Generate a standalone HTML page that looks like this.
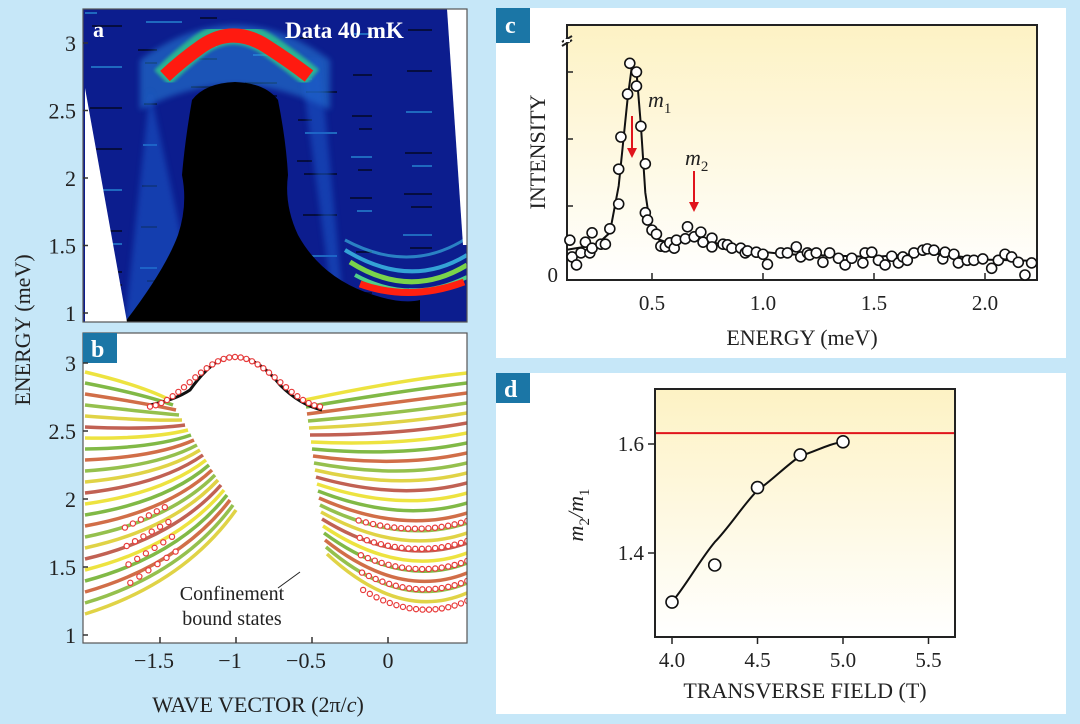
<!DOCTYPE html>
<html><head><meta charset="utf-8">
<style>
html,body{margin:0;padding:0;background:#c6e7f8;}
svg{display:block;font-family:"Liberation Serif",serif;}
</style></head>
<body>
<svg id="fig" width="1080" height="724" viewBox="0 0 1080 724">
<defs>
<linearGradient id="yel" x1="0" y1="0" x2="0" y2="1">
<stop offset="0" stop-color="#fdf2c4"/><stop offset="1" stop-color="#ffffff"/></linearGradient>
<clipPath id="clipA"><rect x="83" y="9" width="384" height="313"/></clipPath>
<clipPath id="clipB"><rect x="83" y="333" width="384" height="310"/></clipPath>
<filter id="blur1"><feGaussianBlur stdDeviation="1.5"/></filter>
<filter id="blur3"><feGaussianBlur stdDeviation="3"/></filter>
</defs>
<rect width="1080" height="724" fill="#c6e7f8"/>

<!-- Panel a -->
<g id="panelA" clip-path="url(#clipA)">
<rect x="83" y="9" width="384" height="313" fill="#0c1d8e"/>
<g id="streaks"></g>
<path d="M140,60 Q235,-10 330,60 L330,110 Q235,60 140,110Z" fill="#2a8be0" opacity="0.5" filter="url(#blur3)"/>
<path d="M150,90 L125,322 L200,322Z M300,60 L335,322 L345,322 L320,60Z" fill="#1a5fd0" opacity="0.5" filter="url(#blur3)"/>
<path d="M125,322 Q165,270 178,235 Q188,205 182,175 Q185,140 192,100 Q205,83 235,82 Q265,83 278,100 Q286,140 288,175 Q284,205 298,235 Q320,275 365,292 Q400,305 420,300 L420,322Z" fill="#000"/>
<path d="M162,78 Q180,60 200,45 Q233,22 268,45 Q290,60 312,78" fill="none" stroke="#2ec98a" stroke-width="22" opacity="0.8" filter="url(#blur1)"/>
<path d="M165,76 Q182,60 202,46 Q233,25 266,46 Q288,60 309,76" fill="none" stroke="#ff1a10" stroke-width="14"/>
<path d="M345,240 Q410,275 467,238" fill="none" stroke="#3fc4e8" stroke-width="3" opacity="0.6"/>
<path d="M345,250 Q410,290 467,255" fill="none" stroke="#3fc4e8" stroke-width="4" opacity="0.8"/>
<path d="M350,262 Q410,300 467,265" fill="none" stroke="#7ad34a" stroke-width="5"/>
<path d="M355,275 Q410,305 467,277" fill="none" stroke="#4fcf8a" stroke-width="4"/>
<path d="M360,284 Q410,302 464,282" fill="none" stroke="#ff2010" stroke-width="7"/>
<path d="M85,88 L85,322 L127,322Z" fill="#fff"/>
<path d="M447,9 L467,9 L467,245 L463,245Z" fill="#fff"/>
<text x="93" y="37" font-size="22" font-weight="bold" fill="#fff">a</text>
<text x="285" y="38" font-size="23" font-weight="bold" fill="#fff">Data 40 mK</text>
</g>
<rect x="83" y="9" width="384" height="313" fill="none" stroke="#555" stroke-width="1.2"/>
<g id="axA"></g>

<!-- Panel b -->
<g id="panelB" clip-path="url(#clipB)">
<rect x="83" y="333" width="384" height="310" fill="#fff"/>
<g id="bands"></g>
<path d="M150,405 Q175,400 190,390 Q215,355 235,357 Q258,357 280,385 Q300,405 322,410" fill="none" stroke="#111" stroke-width="3"/>
<g id="domePts"></g>
<g id="boundPts"></g>
</g>
<rect x="83" y="333" width="384" height="310" fill="none" stroke="#555" stroke-width="1.2"/>
<rect x="83" y="333" width="34" height="30" fill="#1b76a6"/>
<text x="91" y="357" font-size="24" font-weight="bold" fill="#fff">b</text>
<line x1="300" y1="572" x2="278" y2="588" stroke="#222" stroke-width="1"/>
<text x="232" y="600" font-size="20" fill="#222" text-anchor="middle">Confinement</text>
<text x="232" y="625" font-size="20" fill="#222" text-anchor="middle">bound states</text>
<g id="axB"></g>
<text transform="translate(30,330) rotate(-90)" font-size="22" fill="#222" text-anchor="middle">ENERGY (meV)</text>
<text x="258" y="712" font-size="22" fill="#222" text-anchor="middle">WAVE VECTOR (2π/<tspan font-style="italic">c</tspan>)</text>

<!-- Panel c -->
<rect x="496" y="8" width="570" height="350" fill="#fff"/>
<rect x="567" y="25" width="470" height="255" fill="url(#yel)" stroke="#222" stroke-width="2"/>
<rect x="496" y="8" width="34" height="35" fill="#1b76a6"/>
<text x="505" y="33" font-size="24" font-weight="bold" fill="#fff">c</text>
<g><line x1="562" y1="42" x2="572" y2="36" stroke="#222" stroke-width="2"/><line x1="562" y1="46" x2="572" y2="40" stroke="#222" stroke-width="2"/><rect x="564" y="39" width="6" height="3" fill="#fff"/></g>
<g id="chartC"></g>
<text transform="translate(545,152) rotate(-90)" font-size="22" fill="#222" text-anchor="middle">INTENSITY</text>
<text x="802" y="345" font-size="22" fill="#222" text-anchor="middle">ENERGY (meV)</text>
<text x="648" y="107" font-size="22" font-style="italic" fill="#222">m<tspan font-size="15" font-style="normal" dy="6">1</tspan></text>
<text x="685" y="165" font-size="22" font-style="italic" fill="#222">m<tspan font-size="15" font-style="normal" dy="6">2</tspan></text>
<g><line x1="632" y1="116" x2="632" y2="150" stroke="#e0141c" stroke-width="2"/><path d="M627,148 L637,148 L632,158Z" fill="#e0141c"/></g>
<g><line x1="694" y1="171" x2="694" y2="204" stroke="#e0141c" stroke-width="2"/><path d="M689,202 L699,202 L694,212Z" fill="#e0141c"/></g>

<!-- Panel d -->
<rect x="496" y="373" width="570" height="341" fill="#fff"/>
<rect x="655" y="389" width="300" height="248" fill="url(#yel)" stroke="#222" stroke-width="2"/>
<rect x="496" y="373" width="34" height="30" fill="#1b76a6"/>
<text x="504" y="397" font-size="24" font-weight="bold" fill="#fff">d</text>
<g id="chartD"></g>
<text transform="translate(583,515) rotate(-90)" font-size="22" font-style="italic" fill="#222" text-anchor="middle">m<tspan font-size="15" font-style="normal" dy="6">2</tspan><tspan dy="-6">/m</tspan><tspan font-size="15" font-style="normal" dy="6">1</tspan></text>
<text x="805" y="698" font-size="22" fill="#222" text-anchor="middle">TRANSVERSE FIELD (T)</text>
</svg>
<script>
// ---- Panel c data ----
const cEnergy = [0.13,0.14,0.16,0.18,0.20,0.23,0.22,0.23,0.27,0.29,0.31,0.35,0.35,0.36,0.39,0.40,0.43,0.43,0.45,0.47,0.47,0.48,0.50,0.52,0.54,0.56,0.58,0.60,0.61,0.65,0.66,0.69,0.72,0.73,0.77,0.77,0.82,0.84,0.86,0.90,0.92,0.93,0.97,1.00,1.02,1.08,1.11,1.15,1.17,1.20,1.21,1.24,1.27,1.30,1.34,1.37,1.40,1.45,1.46,1.49,1.52,1.55,1.58,1.61,1.63,1.65,1.68,1.72,1.74,1.77,1.81,1.82,1.86,1.88,1.92,1.95,1.99,2.03,2.06,2.09,2.12,2.15,2.18,2.21];
const cIntensity = [0.49,0.24,0.12,0.30,0.46,0.60,0.30,0.37,0.43,0.43,0.66,1.03,1.55,2.03,2.67,3.13,3.00,2.79,2.19,1.63,0.90,0.79,0.64,0.58,0.40,0.39,0.45,0.37,0.49,0.51,0.69,0.54,0.61,0.46,0.52,0.39,0.43,0.42,0.37,0.37,0.30,0.33,0.31,0.28,0.13,0.30,0.30,0.39,0.24,0.30,0.27,0.30,0.16,0.30,0.22,0.12,0.22,0.15,0.30,0.31,0.19,0.12,0.25,0.15,0.24,0.19,0.30,0.34,0.36,0.34,0.21,0.31,0.28,0.15,0.19,0.19,0.21,0.07,0.19,0.28,0.24,0.16,-0.03,0.15];
const cFitE = [0.12,0.25,0.31,0.35,0.39,0.41,0.43,0.45,0.47,0.49,0.53,0.60,0.68,0.75,0.90,1.10,1.50,1.75,2.00,2.23];
const cFitI = [0.35,0.42,0.60,1.30,2.60,3.10,3.00,2.20,1.20,0.75,0.50,0.42,0.55,0.48,0.35,0.28,0.24,0.30,0.20,0.18];
const cXTicks = [0.5,1.0,1.5,2.0];
const cXTickLabels = ["0.5","1.0","1.5","2.0"];
const cYTicks = [1,2,3];
// ---- Panel d data ----
const dField = [4.0,4.25,4.5,4.75,5.0];
const dRatio = [1.31,1.378,1.52,1.58,1.604];
const dFitF = [4.0,4.25,4.5,4.75,5.0];
const dFitR = [1.31,1.42,1.515,1.578,1.604];
const dLimit = [1.62];
const dXTicks = [4.0,4.5,5.0,5.5];
const dXTickLabels = ["4.0","4.5","5.0","5.5"];
const dYTicks = [1.4,1.6];
const dYTickLabels = ["1.4","1.6"];
// ---- Panels a/b axis ticks ----
const eTicks = [1,1.5,2,2.5,3];
const eTickLabels = ["1","1.5","2","2.5","3"];
const kTicks = [-1.5,-1,-0.5,0];
const kTickLabels = ["\u22121.5","\u22121","\u22120.5","0"];

const NS="http://www.w3.org/2000/svg";
function mk(tag, attrs, parent){const e=document.createElementNS(NS,tag);for(const k in attrs)e.setAttribute(k,attrs[k]);parent.appendChild(e);return e;}

// Panel c scales
const cx = e => 652 + (e-0.5)*222;
const cy = v => 273 - v*67;
const gC = document.getElementById('chartC');
let d = cFitE.map((e,i)=>(i?'L':'M')+cx(e).toFixed(1)+','+cy(cFitI[i]).toFixed(1)).join(' ');
const fitLine = mk('path',{d:d,fill:'none',stroke:'#111','stroke-width':2},gC);


cEnergy.forEach((e,i)=>{
  const c = mk('circle',{cx:cx(e),cy:cy(cIntensity[i]),r:5,fill:'#fff',stroke:'#111','stroke-width':1.6},gC);
  
  
});
cXTicks.forEach((t,i)=>{
  const l = mk('line',{x1:cx(t),x2:cx(t),y1:280,y2:273,stroke:'#222','stroke-width':1.5},gC);
  
  
  const tx = mk('text',{x:cx(t),y:310,'font-size':21,fill:'#222','text-anchor':'middle'},gC);
  tx.textContent = cXTickLabels[i];
  
  
});
cYTicks.forEach(t=>{
  const l = mk('line',{x1:567,x2:573,y1:cy(t),y2:cy(t),stroke:'#222','stroke-width':1.5},gC);
  
  
});
const z = mk('text',{x:558,y:282,'font-size':21,fill:'#222','text-anchor':'end'},gC);
z.textContent='0';



// Panel d scales
const dx = f => 672 + (f-4.0)*171;
const dy = r => 444 - (r-1.6)*545;
const gD = document.getElementById('chartD');
const lim = mk('line',{x1:656,x2:954,y1:dy(dLimit[0]),y2:dy(dLimit[0]),stroke:'#e0141c','stroke-width':2},gD);


let p = 'M'+dx(dFitF[0])+','+dy(dFitR[0]);
for(let i=1;i<dFitF.length;i++){
  const x0=dx(dFitF[i-1]),y0=dy(dFitR[i-1]),x1=dx(dFitF[i]),y1=dy(dFitR[i]);
  p += ' C'+(x0+(x1-x0)*0.35)+','+(y0+(y1-y0)*0.3)+' '+(x1-(x1-x0)*0.35)+','+(y1-(y1-y0)*(i==dFitF.length-1?0.15:0.3))+' '+x1+','+y1;
}
const fitD = mk('path',{d:p,fill:'none',stroke:'#111','stroke-width':2},gD);


dField.forEach((f,i)=>{
  const c = mk('circle',{cx:dx(f),cy:dy(dRatio[i]),r:6,fill:'#fff',stroke:'#111','stroke-width':1.6},gD);
  
  
});
dXTicks.forEach((t,i)=>{
  const l = mk('line',{x1:dx(t),x2:dx(t),y1:637,y2:644,stroke:'#222','stroke-width':1.5},gD);
  
  
  const tx = mk('text',{x:dx(t),y:667,'font-size':21,fill:'#222','text-anchor':'middle'},gD);
  tx.textContent = dXTickLabels[i];
  
  
});
dYTicks.forEach((t,i)=>{
  const l = mk('line',{x1:648,x2:655,y1:dy(t),y2:dy(t),stroke:'#222','stroke-width':1.5},gD);
  
  
  const tx = mk('text',{x:644,y:dy(t)+7,'font-size':21,fill:'#222','text-anchor':'end'},gD);
  tx.textContent = dYTickLabels[i];
  
  
});

// Panels a/b axes
const ayA = e => 313 - (e-1)*135;
const ayB = e => 635 - (e-1)*136;
const kx = k => 388 + k*152;
const gA = document.getElementById('axA');
const gB = document.getElementById('axB');
eTicks.forEach((t,i)=>{
  [[ayA,gA],[ayB,gB]].forEach(([f,g])=>{
    const l = mk('line',{x1:83,x2:88,y1:f(t),y2:f(t),stroke:'#333','stroke-width':1.5},g);
    
    
    const tx = mk('text',{x:76,y:f(t)+8,'font-size':22,fill:'#222','text-anchor':'end'},g);
    tx.textContent = eTickLabels[i];
    
    
  });
});
kTicks.forEach((t,i)=>{
  const l = mk('line',{x1:kx(t),x2:kx(t),y1:643,y2:637,stroke:'#333','stroke-width':1.5},gB);
  
  
  const tx = mk('text',{x:kx(t)-(i<3?6:0),y:668,'font-size':22,fill:'#222','text-anchor':'middle'},gB);
  tx.textContent = kTickLabels[i];
  
  
});

// Panel a streaks (texture)
const gS = document.getElementById('streaks');
for(let i=0;i<70;i++){
  const y = 12 + (i*37)%300;
  const x = 85 + (i*53)%370;
  const s = mk('rect',{x:x,y:y,width:12+(i*7)%25,height:2,fill:(i%3?'#000':'#2fa8e8'),opacity:0.55},gS);
  
  
}

// Panel b bands (illustration)
const gBand = document.getElementById('bands');
const cols = ['#e8dc10','#62a818','#c64a1a','#7ab020','#d8c818','#b23a28'];
for(let n=0;n<23;n++){
  const col = cols[n%cols.length];
  const l = mk('path',{d:`M85,${372+n*11} Q${140+n*2},${385+n*9} ${170+n*3},${400+n*5}`,fill:'none',stroke:col,'stroke-width':3.5,opacity:0.8},gBand);
  
  
  const r = mk('path',{d:`M${305+n},${400+n*7} Q400,${380+n*11} 467,${373+n*10}`,fill:'none',stroke:col,'stroke-width':3.5,opacity:0.8},gBand);
  
  
}
// dome points
const gDome = document.getElementById('domePts');
for(let i=0;i<=30;i++){
  const x=150+i/30*170;
  const y=357 + 50*Math.pow(Math.sin(Math.PI*Math.min(1,Math.abs(x-235)/90)/2),2);
  const c = mk('circle',{cx:x,cy:Math.min(y,407),r:2.6,fill:'#fff',stroke:'#e83a3a','stroke-width':1.2},gDome);
  
  
}
// bound state points along lower bands
const gBP = document.getElementById('boundPts');
[14,16,18,20,22].forEach(n=>{
  for(let i=0;i<=16;i++){
    const t=0.25+i*0.047;
    const x0=305+n,y0=400+n*7,cx1=400,cy1=380+n*11,x2=467,y2=373+n*10;
    const x=(1-t)*(1-t)*x0+2*t*(1-t)*cx1+t*t*x2;
    const y=(1-t)*(1-t)*y0+2*t*(1-t)*cy1+t*t*y2;
    const c = mk('circle',{cx:x,cy:y+8,r:2.6,fill:'#fff',stroke:'#e83a3a','stroke-width':1.2},gBP);
    
    
  }
});
[16,18,20,22].forEach(n=>{
  for(let i=0;i<6;i++){
    const t=0.3+i*0.06;
    const x=85+t*(170+n*3-85), y=372+n*11+t*((400+n*5)-(372+n*11));
    const c = mk('circle',{cx:x,cy:y,r:2.6,fill:'#fff',stroke:'#e83a3a','stroke-width':1.2},gBP);
    
    
  }
});
</script>
</body></html>
